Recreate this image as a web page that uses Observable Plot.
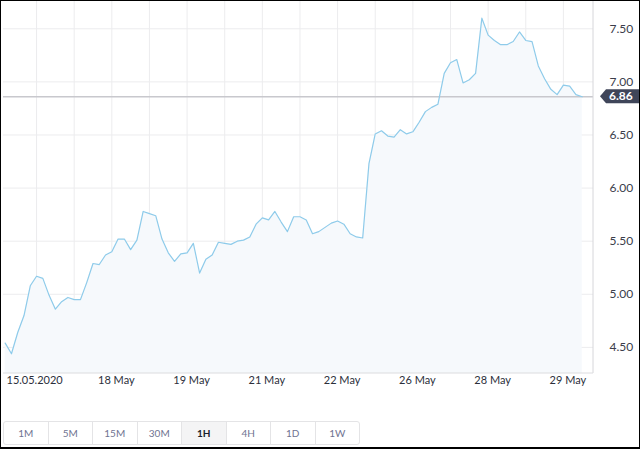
<!DOCTYPE html>
<html>
<head>
<meta charset="utf-8">
<script src="https://cdn.jsdelivr.net/npm/d3@7"></script>
<script src="https://cdn.jsdelivr.net/npm/@observablehq/plot@0.6"></script>
<style>
  html, body { margin: 0; padding: 0; background: #fff; }
  #wrap { position: relative; width: 640px; height: 449px; box-sizing: border-box;
          border: 1px solid #000; border-bottom-width: 2px; overflow: hidden; background: #fff; }
  #chart { position: absolute; left: 0; top: 0; }
  #buttons { position: absolute; left: 2px; top: 420px; display: flex; }
  .btn { width: 45.5px; height: 24px; box-sizing: border-box; border: 1px solid #e4e4e6; margin-left: -1px;
         font: 10px Lato, "Open Sans", sans-serif; color: #6f7391; display: flex; align-items: center; justify-content: center; }
  .btn:first-child { margin-left: 0; border-radius: 3px 0 0 3px; }
  .btn:last-child { border-radius: 0 3px 3px 0; }
  .btn.active { background: #f4f4f5; color: #1c1f2c; font-weight: 700; }
</style>
</head>
<body>
<div id="wrap">
  <div id="chart"></div>
  <div id="buttons"></div>
</div>
<script>
// Price series (1H candles, close values), oldest first
const prices = [
  4.54, 4.44, 4.64, 4.80, 5.08, 5.17, 5.15, 4.99, 4.86, 4.93,
  4.97, 4.95, 4.95, 5.11, 5.29, 5.28, 5.37, 5.40, 5.52, 5.52,
  5.42, 5.51, 5.78, 5.76, 5.74, 5.52, 5.39, 5.31, 5.38, 5.39,
  5.48, 5.20, 5.33, 5.37, 5.49, 5.48, 5.47, 5.50, 5.51, 5.54,
  5.66, 5.72, 5.70, 5.78, 5.68, 5.59, 5.73, 5.73, 5.70, 5.57,
  5.59, 5.63, 5.67, 5.69, 5.66, 5.57, 5.54, 5.53, 6.23, 6.51,
  6.54, 6.49, 6.48, 6.55, 6.51, 6.53, 6.62, 6.72, 6.76, 6.79,
  7.08, 7.18, 7.21, 6.99, 7.02, 7.08, 7.60, 7.44, 7.39, 7.35,
  7.35, 7.38, 7.47, 7.39, 7.38, 7.15, 7.03, 6.93, 6.88, 6.97,
  6.96, 6.88, 6.86
];
const currentPrice = 6.86;
const yTicks = [4.5, 5.0, 5.5, 6.0, 6.5, 7.0, 7.5];
const xGridIdx = [5, 11, 17, 23, 29, 35, 41, 47, 53, 59, 65, 71, 77, 83, 89];
const xLabelIdx = [5, 17, 29, 41, 53, 65, 77, 89];
const xLabels = ["15.05.2020", "18 May", "19 May", "21 May", "22 May", "26 May", "28 May", "29 May"];
const intervals = ["1M", "5M", "15M", "30M", "1H", "4H", "1D", "1W"];
const activeInterval = "1H";

const data = prices.map((v, i) => ({i, v}));
const labelRows = xLabelIdx.map((i, k) => ({i, label: xLabels[k]}));

const font = "Lato, 'Open Sans', sans-serif";

const decor = (index, scales, values, dims) => {
  const g = d3.create("svg:g");
  const xr = dims.width - dims.marginRight;
  const yb = dims.height - dims.marginBottom;
  g.append("line").attr("x1", xr).attr("x2", xr).attr("y1", dims.marginTop).attr("y2", yb)
    .attr("stroke", "#d6d6da");
  g.append("line").attr("x1", dims.marginLeft).attr("x2", xr).attr("y1", yb).attr("y2", yb)
    .attr("stroke", "#dcdcdf");
  const yy = scales.y(currentPrice);
  const x0 = xr + 7;
  g.append("path")
    .attr("d", `M${x0},${yy} L${x0 + 6},${yy - 7} L${dims.width},${yy - 7} L${dims.width},${yy + 7} L${x0 + 6},${yy + 7} Z`)
    .attr("fill", "#3f4559");
  g.append("text").attr("x", xr + 16).attr("y", yy).attr("dy", "0.35em")
    .attr("text-anchor", "start")
    .attr("fill", "#fff").attr("font-weight", 700).attr("font-size", 12)
    .attr("font-family", font).text(currentPrice.toFixed(2));
  return g.node();
};

const chart = Plot.plot({
  width: 638,
  height: 395,
  marginLeft: 2,
  marginRight: 46,
  marginTop: 0,
  marginBottom: 23,
  style: {fontFamily: font, fontSize: "12px", color: "#3a3d4a", background: "transparent", overflow: "visible"},
  x: {type: "linear", domain: [-0.271, 93.8], axis: null},
  y: {domain: [4.254, 7.757], axis: "right", ticks: yTicks, tickFormat: d => d.toFixed(2),
      tickSize: 0, tickPadding: 16, label: null},
  marks: [
    Plot.ruleY(yTicks, {stroke: "#ececee"}),
    Plot.ruleX(xGridIdx, {stroke: "#ececee"}),
    Plot.areaY(data, {x: "i", y: "v", fill: "#f6f9fc", clip: true}),
    Plot.ruleY([currentPrice], {stroke: "#c8c8cd", strokeWidth: 1.6}),
    Plot.lineY(data, {x: "i", y: "v", stroke: "#8ecbea", strokeWidth: 1.2}),
    Plot.text(labelRows.slice(1), {x: "i", frameAnchor: "bottom", text: "label", dy: 10, dx: 4.5,
      fontSize: 11, fill: "#2c2f3b"}),
    Plot.text(labelRows.slice(0, 1), {frameAnchor: "bottom-left", text: "label", dy: 10, dx: 3,
      textAnchor: "start", fontSize: 11, fill: "#2c2f3b"}),
    decor
  ]
});
document.getElementById("chart").appendChild(chart);

const bw = document.getElementById("buttons");
intervals.forEach(t => {
  const b = document.createElement("div");
  b.className = "btn" + (t === activeInterval ? " active" : "");
  b.textContent = t;
  bw.appendChild(b);
});
</script>
</body>
</html>
